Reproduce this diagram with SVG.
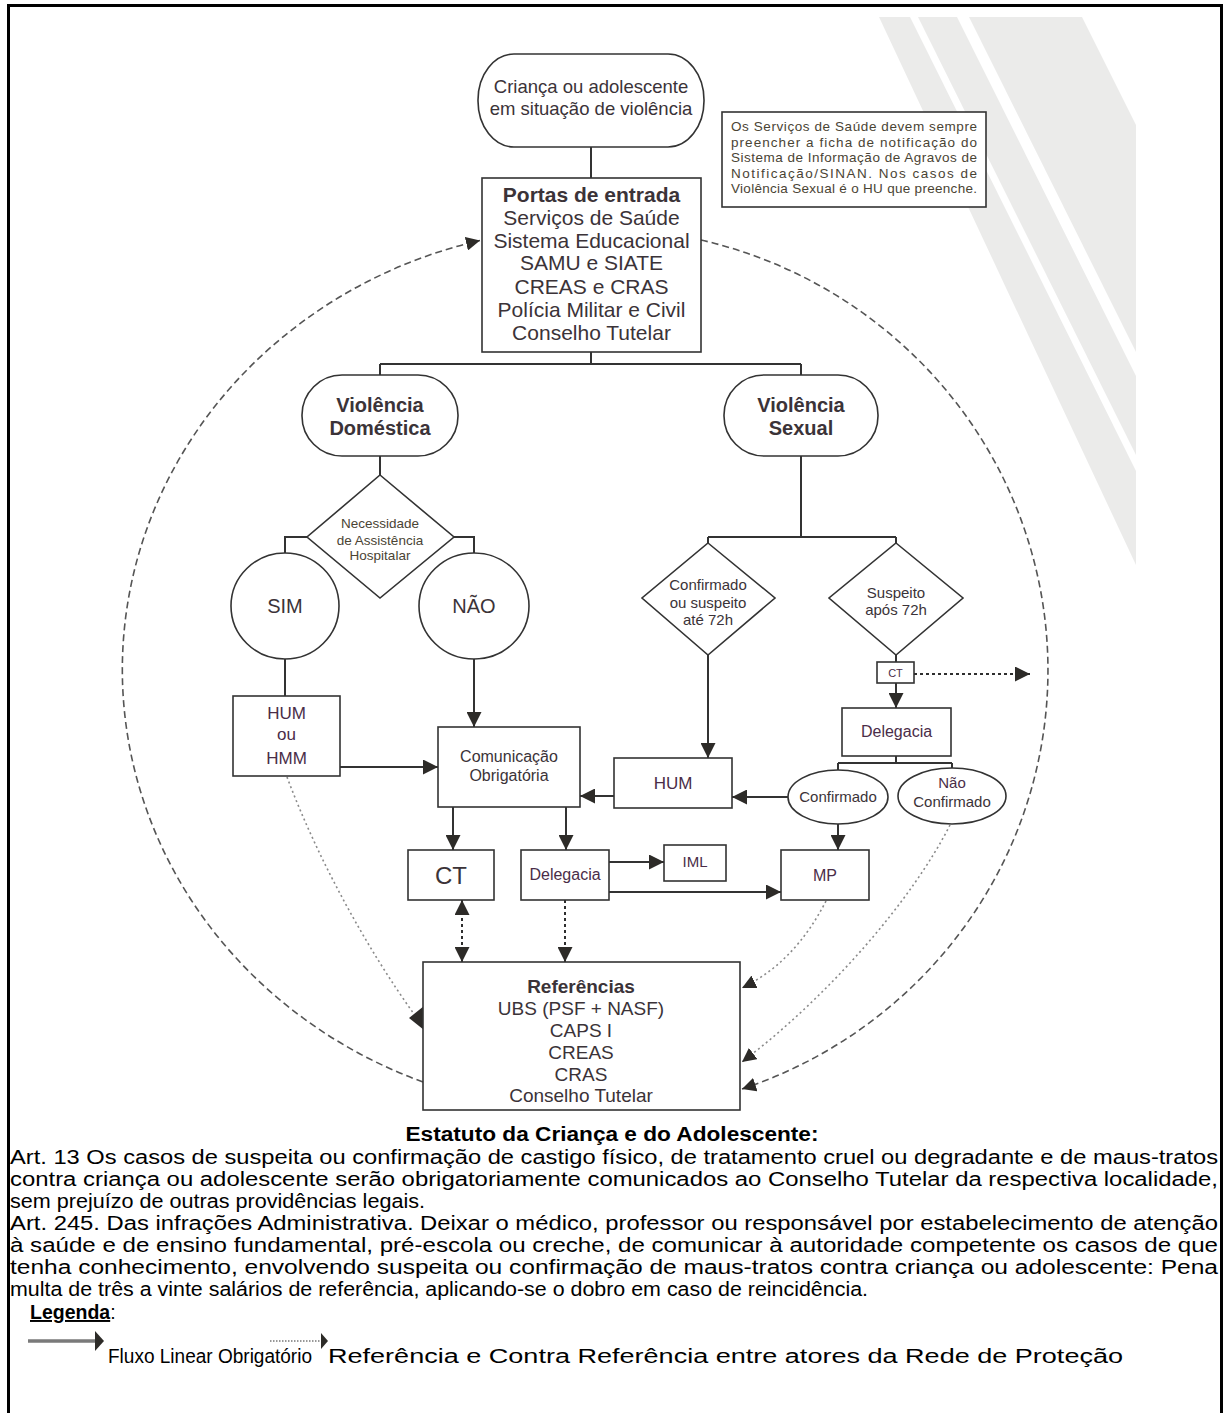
<svg xmlns="http://www.w3.org/2000/svg" width="1227" height="1413" viewBox="0 0 1227 1413">
<defs>
<style>
.box{fill:#fff;stroke:#333;stroke-width:1.6}
.ln{fill:none;stroke:#333;stroke-width:2}
.dot{fill:none;stroke:#2e2e2e;stroke-width:2;stroke-dasharray:3 3}
.fdot{fill:none;stroke:#8a8a8a;stroke-width:1.6;stroke-dasharray:2 3}
.dash{fill:none;stroke:#555;stroke-width:1.6;stroke-dasharray:7 4}
.t{font-family:"Liberation Sans",Arial,sans-serif;fill:#3b3338;text-anchor:middle}
.b{font-weight:bold}
.p{font-family:"Liberation Sans",Arial,sans-serif;fill:#000;font-size:19.5px}
.wm{fill:#ebebea}
</style>
<marker id="ah" viewBox="0 0 10 10" refX="10" refY="5" markerWidth="15" markerHeight="15" markerUnits="userSpaceOnUse" orient="auto-start-reverse"><path d="M0,0 L10,5 L0,10 z" fill="#2d2b28"/></marker>
<marker id="ahs" viewBox="0 0 10 10" refX="10" refY="5" markerWidth="14" markerHeight="14" markerUnits="userSpaceOnUse" orient="auto"><path d="M0,0 L10,5 L0,10 z" fill="#2d2b28"/></marker>
</defs>
<rect width="1227" height="1413" fill="#fff"/>
<g id="watermark">
<polygon class="wm" points="879,17 1082,17 1136,125 1136,565"/>
<polygon fill="#fff" points="910,17 918,17 1136,455 1136,471"/>
<polygon fill="#fff" points="957,17 969,17 1136,352 1136,376"/>
</g>
<rect x="8.5" y="5.5" width="1213" height="1420" fill="none" stroke="#000" stroke-width="3"/>

<g id="connectors">
<path class="dash" d="M423,1082 A470,442 0 0 1 480,240.5" marker-end="url(#ahs)"/>
<path class="dash" d="M701,240 A450,442 0 0 1 742,1089" marker-end="url(#ahs)"/>
<path class="ln" d="M591,147 V178"/>
<path class="ln" d="M591,352 V364 M380,364 H801 M380,364 V375 M801,364 V375"/>
<path class="ln" d="M380,456 V475"/>
<path class="ln" d="M307,537 H285 V553 M454,537 H474 V553"/>
<path class="ln" d="M285,659 V696"/>
<path class="ln" d="M474,659 V727" marker-end="url(#ah)"/>
<path class="ln" d="M340,767 H438" marker-end="url(#ah)"/>
<path class="ln" d="M801,456 V537 M708,537 H896 M708,537 V543 M896,537 V543"/>
<path class="ln" d="M708,655 V758" marker-end="url(#ah)"/>
<path class="ln" d="M614,796 H580" marker-end="url(#ah)"/>
<path class="ln" d="M896,655 V662"/>
<path class="ln" d="M896,683 V708" marker-end="url(#ah)"/>
<path class="ln" d="M896,756 V763 M838,763 H952 M838,763 V770 M952,763 V768"/>
<path class="ln" d="M788,797 H732" marker-end="url(#ah)"/>
<path class="ln" d="M838,824 V850" marker-end="url(#ah)"/>
<path class="ln" d="M453,807 V850" marker-end="url(#ah)"/>
<path class="ln" d="M566,807 V850" marker-end="url(#ah)"/>
<path class="ln" d="M609,862 H664" marker-end="url(#ah)"/>
<path class="ln" d="M609,892 H781" marker-end="url(#ah)"/>
<path class="dot" d="M914,674 H1030" marker-end="url(#ah)"/>
<path class="dot" d="M462,900 V962" marker-start="url(#ah)" marker-end="url(#ah)"/>
<path class="dot" d="M565,900 V962" marker-end="url(#ah)"/>
<path class="fdot" d="M287,777 C318,860 368,950 414,1014"/>
<polygon points="409,1018 424,1006 424,1030" fill="#2d2b28"/>
<path class="fdot" d="M826,901 Q795,962 742,988" marker-end="url(#ahs)"/>
<path class="fdot" d="M950,825 C912,900 830,995 742,1062" marker-end="url(#ahs)"/>
</g>

<g id="n-start">
<rect class="box" x="478" y="54" width="226" height="93" rx="36" ry="46"/>
<text class="t" x="591" y="93" font-size="18.5">Criança ou adolescente</text>
<text class="t" x="591" y="115" font-size="18.5">em situação de violência</text>
</g>
<g id="n-portas">
<rect class="box" x="482" y="178" width="219" height="174"/>
<text class="t b" x="591.5" y="202" font-size="21">Portas de entrada</text>
<text class="t" x="591.5" y="225" font-size="21">Serviços de Saúde</text>
<text class="t" x="591.5" y="248" font-size="21">Sistema Educacional</text>
<text class="t" x="591.5" y="270" font-size="21">SAMU e SIATE</text>
<text class="t" x="591.5" y="294" font-size="21">CREAS e CRAS</text>
<text class="t" x="591.5" y="317" font-size="21">Polícia Militar e Civil</text>
<text class="t" x="591.5" y="340" font-size="21">Conselho Tutelar</text>
</g>
<g id="n-nota">
<rect class="box" x="722" y="112" width="264" height="95"/>
<g class="t" font-size="13.5" style="text-anchor:start;fill:#4a4434">
<text x="731" y="131" textLength="246" lengthAdjust="spacing">Os Serviços de Saúde devem sempre</text>
<text x="731" y="146.5" textLength="246" lengthAdjust="spacing">preencher a ficha de notificação do</text>
<text x="731" y="162" textLength="246" lengthAdjust="spacing">Sistema de Informação de Agravos de</text>
<text x="731" y="177.5" textLength="246" lengthAdjust="spacing">Notificação/SINAN. Nos casos de</text>
<text x="731" y="193" textLength="246" lengthAdjust="spacing">Violência Sexual é o HU que preenche.</text>
</g>
</g>
<g id="n-vd">
<rect class="box" x="302" y="375" width="156" height="81" rx="40"/>
<text class="t b" x="380" y="412" font-size="20">Violência</text>
<text class="t b" x="380" y="435" font-size="20">Doméstica</text>
</g>
<g id="n-vs">
<rect class="box" x="724" y="375" width="154" height="81" rx="40"/>
<text class="t b" x="801" y="412" font-size="20">Violência</text>
<text class="t b" x="801" y="435" font-size="20">Sexual</text>
</g>
<g id="n-necess">
<polygon class="box" points="380,475 454,537 380,598 307,537"/>
<text class="t" x="380" y="528" font-size="13.5" style="fill:#4a4434">Necessidade</text>
<text class="t" x="380" y="545" font-size="13.5" style="fill:#4a4434">de Assistência</text>
<text class="t" x="380" y="560" font-size="13.5" style="fill:#4a4434">Hospitalar</text>
</g>
<g id="n-sim">
<ellipse class="box" cx="285" cy="606" rx="54" ry="53"/>
<text class="t" x="285" y="613" font-size="20">SIM</text>
</g>
<g id="n-nao">
<ellipse class="box" cx="474" cy="606" rx="55" ry="53"/>
<text class="t" x="474" y="613" font-size="20">NÃO</text>
</g>
<g id="n-conf72">
<polygon class="box" points="708,543 775,598 708,655 642,598"/>
<text class="t" x="708" y="590" font-size="15">Confirmado</text>
<text class="t" x="708" y="608" font-size="15">ou suspeito</text>
<text class="t" x="708" y="625" font-size="15">até 72h</text>
</g>
<g id="n-susp72">
<polygon class="box" points="896,543 963,598 896,655 829,598"/>
<text class="t" x="896" y="598" font-size="15">Suspeito</text>
<text class="t" x="896" y="615" font-size="15">após 72h</text>
</g>
<g id="n-hum-hmm">
<rect class="box" x="233" y="696" width="107" height="80"/>
<text class="t" x="286.5" y="719" font-size="17" style="fill:#4a2d48">HUM</text>
<text class="t" x="286.5" y="740" font-size="17" style="fill:#4a2d48">ou</text>
<text class="t" x="286.5" y="764" font-size="17" style="fill:#4a2d48">HMM</text>
</g>
<g id="n-com">
<rect class="box" x="438" y="727" width="142" height="80"/>
<text class="t" x="509" y="762" font-size="16">Comunicação</text>
<text class="t" x="509" y="781" font-size="16">Obrigatória</text>
</g>
<g id="n-hum">
<rect class="box" x="614" y="758" width="118" height="50"/>
<text class="t" x="673" y="789" font-size="17" style="fill:#4a2d48">HUM</text>
</g>
<g id="n-ct-small">
<rect class="box" x="877" y="662" width="37" height="21"/>
<text class="t" x="895.5" y="677" font-size="11" style="fill:#4a2d48">CT</text>
</g>
<g id="n-deleg1">
<rect class="box" x="842" y="708" width="109" height="48"/>
<text class="t" x="896.5" y="737" font-size="16" style="fill:#4a2d48">Delegacia</text>
</g>
<g id="n-confirmado">
<ellipse class="box" cx="838" cy="797" rx="50" ry="27"/>
<text class="t" x="838" y="802" font-size="15">Confirmado</text>
</g>
<g id="n-naoconf">
<ellipse class="box" cx="952" cy="796" rx="54" ry="28"/>
<text class="t" x="952" y="788" font-size="15" style="fill:#4a2d48">Não</text>
<text class="t" x="952" y="807" font-size="15">Confirmado</text>
</g>
<g id="n-ct">
<rect class="box" x="408" y="850" width="86" height="50"/>
<text class="t" x="451" y="884" font-size="24">CT</text>
</g>
<g id="n-deleg2">
<rect class="box" x="521" y="850" width="88" height="50"/>
<text class="t" x="565" y="880" font-size="16" style="fill:#4a2d48">Delegacia</text>
</g>
<g id="n-iml">
<rect class="box" x="664" y="845" width="62" height="36"/>
<text class="t" x="695" y="867" font-size="15" style="fill:#4a2d48">IML</text>
</g>
<g id="n-mp">
<rect class="box" x="781" y="850" width="88" height="50"/>
<text class="t" x="825" y="881" font-size="16" style="fill:#4a2d48">MP</text>
</g>
<g id="n-ref">
<rect class="box" x="423" y="962" width="317" height="148"/>
<text class="t b" x="581" y="993" font-size="19">Referências</text>
<text class="t" x="581" y="1015" font-size="19">UBS (PSF + NASF)</text>
<text class="t" x="581" y="1037" font-size="19">CAPS I</text>
<text class="t" x="581" y="1059" font-size="19">CREAS</text>
<text class="t" x="581" y="1081" font-size="19">CRAS</text>
<text class="t" x="581" y="1102" font-size="19">Conselho Tutelar</text>
</g>

<g id="texto">
<text class="p" x="612" y="1141" font-size="20" font-weight="bold" text-anchor="middle" textLength="413" lengthAdjust="spacingAndGlyphs">Estatuto da Criança e do Adolescente:</text>
<text class="p" x="10" y="1164" textLength="1208" lengthAdjust="spacingAndGlyphs">Art. 13 Os casos de suspeita ou confirmação de castigo físico, de tratamento cruel ou degradante e de maus-tratos</text>
<text class="p" x="10" y="1186" textLength="1208" lengthAdjust="spacingAndGlyphs">contra criança ou adolescente serão obrigatoriamente comunicados ao Conselho Tutelar da respectiva localidade,</text>
<text class="p" x="10" y="1208" textLength="415" lengthAdjust="spacingAndGlyphs">sem prejuízo de outras providências legais.</text>
<text class="p" x="10" y="1230" textLength="1208" lengthAdjust="spacingAndGlyphs">Art. 245. Das infrações Administrativa. Deixar o médico, professor ou responsável por estabelecimento de atenção</text>
<text class="p" x="10" y="1252" textLength="1208" lengthAdjust="spacingAndGlyphs">à saúde e de ensino fundamental, pré-escola ou creche, de comunicar à autoridade competente os casos de que</text>
<text class="p" x="10" y="1274" textLength="1208" lengthAdjust="spacingAndGlyphs">tenha conhecimento, envolvendo suspeita ou confirmação de maus-tratos contra criança ou adolescente: Pena</text>
<text class="p" x="10" y="1296" textLength="858" lengthAdjust="spacingAndGlyphs">multa de três a vinte salários de referência, aplicando-se o dobro em caso de reincidência.</text>
<text class="p" x="30" y="1319" font-size="20"><tspan font-weight="bold" text-decoration="underline">Legenda</tspan>:</text>
</g>
<g id="legenda">
<line x1="28" y1="1341" x2="95" y2="1341" stroke="#7a7a7a" stroke-width="3.5"/>
<polygon points="95,1331 104,1341 95,1351" fill="#2d2b28"/>
<line x1="270" y1="1341" x2="321" y2="1341" stroke="#777" stroke-width="1.5" stroke-dasharray="1.5 1.5"/>
<polygon points="321,1333 328,1341 321,1349" fill="#2d2b28"/>
<text class="p" x="108" y="1363" font-size="20" textLength="204" lengthAdjust="spacingAndGlyphs">Fluxo Linear Obrigatório</text>
<text class="p" x="328" y="1363" font-size="20" textLength="795" lengthAdjust="spacingAndGlyphs">Referência e Contra Referência entre atores da Rede de Proteção</text>
</g>
</svg>
